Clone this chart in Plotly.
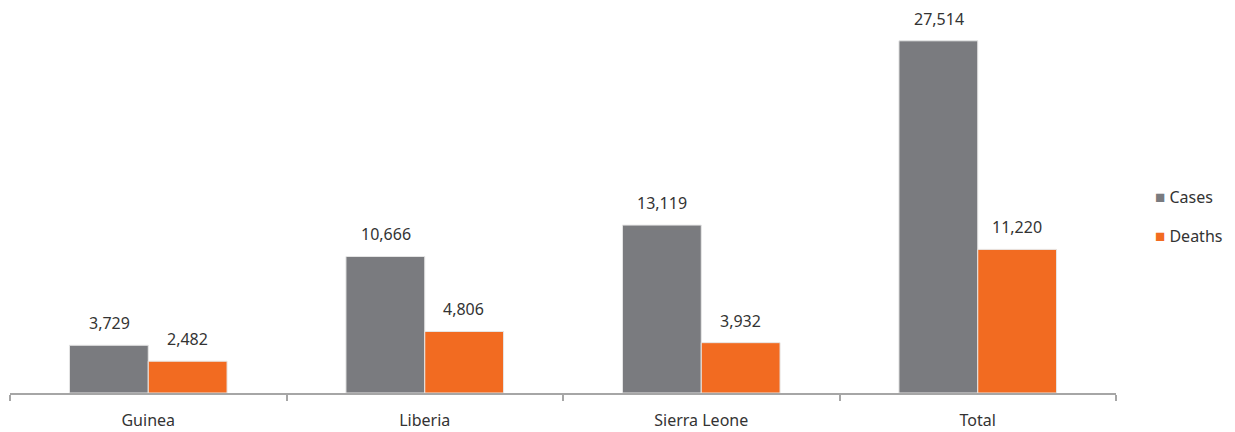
import plotly.graph_objects as go

countries = ['Guinea', 'Liberia', 'Sierra Leone', 'Total']
cases = [3729, 10666, 13119, 27514]
deaths = [2482, 4806, 3932, 11220]
series_names = ['Cases', 'Deaths']

grey = '#7a7b7f'
orange = '#f26b21'
font = 'Noto Sans, Open Sans, sans-serif'

fig = go.Figure()
fig.add_trace(go.Bar(x=countries, y=cases, name=series_names[0], marker_color=grey,
                     marker_line=dict(color='#e6e6e6', width=1)))
fig.add_trace(go.Bar(x=countries, y=deaths, name=series_names[1], marker_color=orange,
                     marker_line=dict(color='#e6e6e6', width=1)))

# value labels a little above each bar
for vals, shift in [(cases, -39), (deaths, 39)]:
    for c, v in zip(countries, vals):
        fig.add_annotation(x=c, y=v, text=f'{v:,}', showarrow=False,
                           xshift=shift, yshift=9, yanchor='bottom',
                           font=dict(size=16, color='#333333', family=font))

# compact legend on the right (square swatch right next to the name)
for name, col, ypos in [(series_names[0], grey, 0.513), (series_names[1], orange, 0.409)]:
    fig.add_annotation(xref='paper', yref='paper', x=1.0335, y=ypos,
                       xanchor='left', yanchor='middle', showarrow=False,
                       text=f'<span style="color:{col};font-size:17px">■</span> {name}',
                       font=dict(size=16, color='#333333', family=font))

# page body has an 8px margin, so the figure is trimmed to match
fig.update_layout(
    width=1227, height=424,
    margin=dict(l=2, r=119, t=1, b=39, autoexpand=False),
    paper_bgcolor='white', plot_bgcolor='white',
    barmode='group', bargap=0.43, bargroupgap=0,
    font=dict(family=font, size=16, color='#333333'),
    showlegend=False,
)
fig.update_xaxes(showline=True, linecolor='#a6a6a6', linewidth=2,
                 ticks='outside', tickson='boundaries', ticklen=6,
                 tickcolor='#a6a6a6', tickwidth=2, showgrid=False,
                 ticklabelstandoff=12,
                 tickfont=dict(size=16, color='#333333'))
fig.update_yaxes(range=[0, 30000], visible=False, showgrid=False)

fig.write_html('out.html')
